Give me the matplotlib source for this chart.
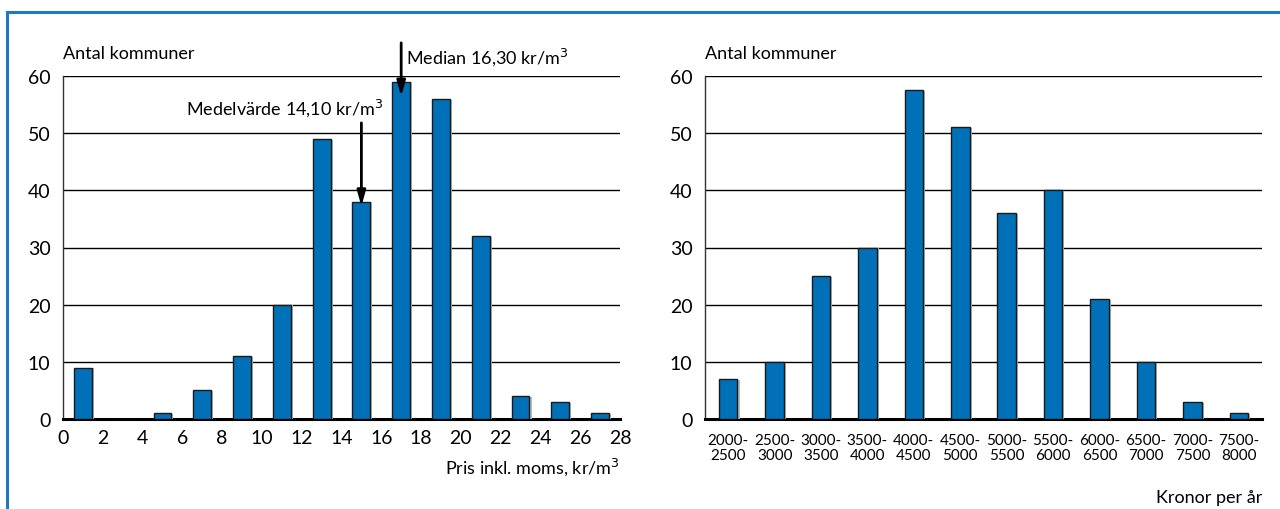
import matplotlib
matplotlib.use("Agg")
import matplotlib.pyplot as plt
import matplotlib.patheffects as pe
from matplotlib.lines import Line2D

plt.rcParams['font.family'] = ['Lato', 'DejaVu Sans']

# Left chart: price per m3 (bins of width 2, centers)
price_centers = [1, 3, 5, 7, 9, 11, 13, 15, 17, 19, 21, 23, 25, 27]
price_counts = [9, 0, 1, 5, 11, 20, 49, 38, 59, 56, 32, 4, 3, 1]
price_ticks = list(range(0, 29, 2))

# Right chart: yearly cost
cost_labels = ["2000-\n2500", "2500-\n3000", "3000-\n3500", "3500-\n4000",
               "4000-\n4500", "4500-\n5000", "5000-\n5500", "5500-\n6000",
               "6000-\n6500", "6500-\n7000", "7000-\n7500", "7500-\n8000"]
cost_counts = [7, 10, 25, 30, 57.5, 51, 36, 40, 21, 10, 3, 1]

y_ticks = [0, 10, 20, 30, 40, 50, 60]
mean_value = 15
mean_label = "Medelvärde 14,10 kr/m$^3$"
median_value = 17
median_label = "Median 16,30 kr/m$^3$"

BAR = "#0070b8"
fig = plt.figure(figsize=(12.8, 5.1), dpi=100)

# blue frame
frame_kw = dict(color="#1f78c1", lw=2.2, transform=fig.transFigure, clip_on=False)
fig.add_artist(Line2D([7/1280, 1.0], [1-13/510, 1-13/510], **frame_kw))
fig.add_artist(Line2D([7/1280, 7/1280], [1-13/510, 0.0], **frame_kw))

ax1 = fig.add_axes([63/1280, 1-420/510, 557/1280, 343/510])
ax2 = fig.add_axes([705/1280, 1-420/510, 557/1280, 343/510])

shadow = [pe.SimplePatchShadow(offset=(1.5, -0.5), shadow_rgbFace="#b8b8b8", alpha=1.0), pe.Normal()]

def style(ax):
    ax.set_ylim(0, 60)
    ax.set_yticks(y_ticks)
    ax.yaxis.grid(True, color="black", lw=1.0)
    ax.set_axisbelow(True)
    for s in ["top", "right"]:
        ax.spines[s].set_visible(False)
    ax.spines["left"].set_color("#333333")
    ax.spines["left"].set_linewidth(1.0)
    ax.spines["bottom"].set_color("black")
    ax.spines["bottom"].set_linewidth(2.2)
    ax.tick_params(axis="both", length=0)
    ax.tick_params(axis="y", pad=9, labelsize=14)
    ax.text(0, 1.045, "Antal kommuner", transform=ax.transAxes, fontsize=13, ha="left", va="bottom")

# Left chart
style(ax1)
bars1 = ax1.bar(price_centers, price_counts, width=0.9, color=BAR, edgecolor="#1a1a1a", lw=1.0, zorder=3)
for b in bars1:
    b.set_path_effects(shadow)
ax1.set_xlim(0, 28)
ax1.set_xticks(price_ticks)
ax1.tick_params(axis="x", pad=7, labelsize=14)
ax1.text(1.0, -0.105, "Pris inkl. moms, kr/m$^3$", transform=ax1.transAxes, fontsize=13, ha="right", va="top")

arrow = dict(arrowstyle="-|>,head_length=0.9,head_width=0.25", lw=2.0, color="black", shrinkA=0, shrinkB=0)
ax1.annotate("", xy=(mean_value, 37.2), xytext=(mean_value, 51.8), arrowprops=arrow, zorder=5)
ax1.text(mean_value + 1.1, 54.5, mean_label, fontsize=13, ha="right", va="center")
ax1.annotate("", xy=(median_value, 56.4), xytext=(median_value, 65.8), arrowprops=arrow,
             annotation_clip=False, zorder=5)
ax1.text(median_value + 0.25, 63.4, median_label, fontsize=13, ha="left", va="center")

# Right chart
style(ax2)
xs = list(range(len(cost_labels)))
bars2 = ax2.bar(xs, cost_counts, width=0.4, color=BAR, edgecolor="#1a1a1a", lw=1.0, zorder=3)
for b in bars2:
    b.set_path_effects(shadow)
ax2.set_xlim(-0.5, len(cost_labels) - 0.5)
ax2.set_xticks(xs)
ax2.set_xticklabels(cost_labels, fontsize=11, linespacing=1.1)
ax2.tick_params(axis="x", pad=10)
ax2.text(1.0, -0.205, "Kronor per år", transform=ax2.transAxes, fontsize=13, ha="right", va="top")

fig.savefig("out.png", dpi=100)
